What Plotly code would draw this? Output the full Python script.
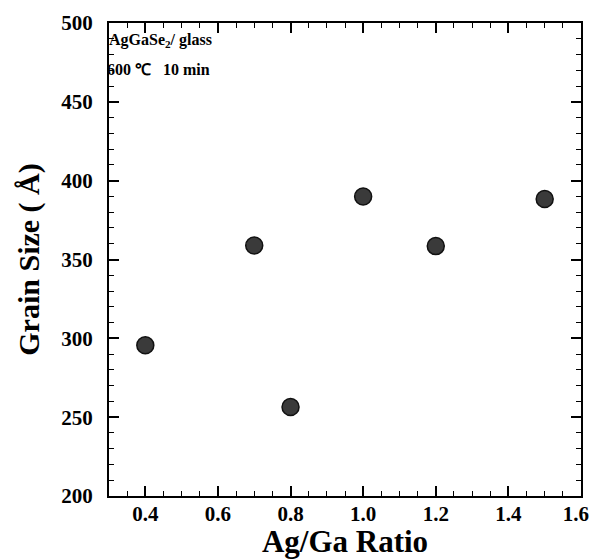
import plotly.graph_objects as go

ratio = [0.4, 0.7, 0.8, 1.0, 1.2, 1.5]
grain_size = [295.6, 358.9, 256.4, 390.0, 358.5, 388.4]
x_ticks = [0.4, 0.6, 0.8, 1.0, 1.2, 1.4, 1.6]
x_tick_labels = ["0.4", "0.6", "0.8", "1.0", "1.2", "1.4", "1.6&nbsp;&nbsp;"]
y_ticks = [200, 250, 300, 350, 400, 450, 500]

font_family = "Liberation Serif"

fig = go.Figure()
fig.add_trace(go.Scatter(
    x=ratio, y=grain_size, mode="markers",
    marker=dict(size=17, color="#3a3a3a", line=dict(color="#111111", width=1.5)),
    showlegend=False,
))

axis_common = dict(
    showline=True, linewidth=2, linecolor="black", mirror="allticks",
    ticks="inside", ticklen=10, tickwidth=1.5, tickcolor="black",
    showgrid=False, zeroline=False, automargin=False,
    tickfont=dict(family=font_family, size=21, color="black", weight="bold"),
)

fig.update_xaxes(
    range=[0.3, 1.6], tickvals=x_ticks, ticktext=x_tick_labels,
    ticklabelstandoff=-2, ticklabeloverflow="allow",
    minor=dict(dtick=0.05, tick0=0.3, ticks="inside", ticklen=5, tickwidth=1, tickcolor="black"),
    title=dict(text="Ag/Ga Ratio", font=dict(family=font_family, size=31, color="black", weight="bold"), standoff=6),
    **axis_common,
)
fig.update_yaxes(
    range=[200, 500], tickvals=y_ticks,
    ticklabelstandoff=10, ticklabeloverflow="allow",
    minor=dict(dtick=10, tick0=200, ticks="inside", ticklen=5, tickwidth=1, tickcolor="black"),
    title=dict(text="Grain Size ( Å)", font=dict(family=font_family, size=30, color="black", weight="bold"), standoff=13),
    **axis_common,
)

fig.add_annotation(x=0, y=0.962, xref="paper", yref="paper", xanchor="left", yanchor="middle",
                   text="AgGaSe<sub>2</sub>/ glass", showarrow=False, xshift=-2,
                   font=dict(family=font_family, size=16, color="black", weight="bold"))
fig.add_annotation(x=0, y=0.901, xref="paper", yref="paper", xanchor="left", yanchor="middle",
                   text="600 ℃&nbsp;&nbsp;&nbsp;10 min", showarrow=False, xshift=-4,
                   font=dict(family=font_family, size=16, color="black", weight="bold"))

fig.update_layout(
    width=591, height=551,
    margin=dict(l=101, r=18, t=15, b=63, autoexpand=False),
    plot_bgcolor="white", paper_bgcolor="white",
)

fig.write_html("out.html")
